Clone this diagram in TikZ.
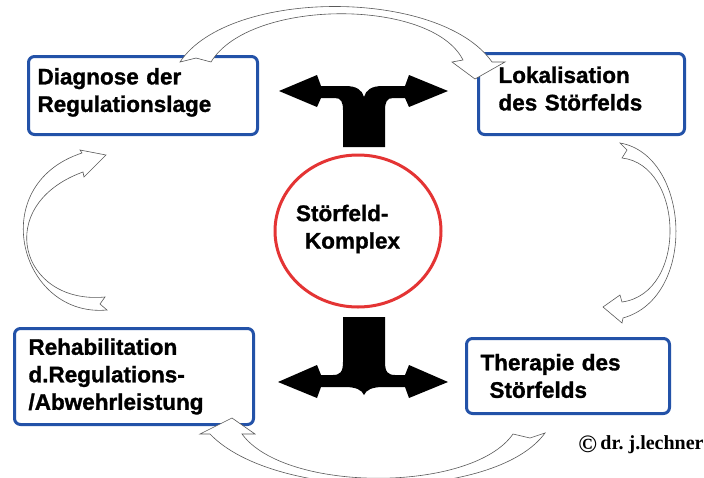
\documentclass[tikz,border=0pt]{standalone}
\usepackage{fontspec}
\setmainfont{Liberation Sans}[BoldFeatures={FakeBold=1.2}]
\newfontfamily\cpfont{Liberation Serif}
\usetikzlibrary{shapes.geometric}
\definecolor{boxblue}{RGB}{35,82,168}
\definecolor{ringred}{RGB}{228,52,52}
\begin{document}
\begin{tikzpicture}[x=1pt,y=-1pt,
  box/.style={draw=boxblue, line width=3pt, rounded corners=6pt, fill=white,
    align=left, font=\bfseries\fontsize{22.5}{27.5}\selectfont,
    anchor=north west, inner ysep=2pt},
  ring/.style={draw=ringred, line width=3pt, ellipse, fill=white},
  lbl/.style={font=\bfseries\fontsize{22.5}{27.5}\selectfont, align=left, inner sep=0pt},
  hollow/.style={fill=white, draw=black!65, line width=0.6pt, line join=miter},
  blackarrow/.style={fill=black, draw=none}]
\useasboundingbox (0,0) rectangle (704,477);

% boxes
\node[box, inner xsep=9pt, text width=211pt, minimum width=229pt, minimum height=78pt]
  (diag) at (27,55) {Diagnose der\\Regulationslage\rule[-11pt]{0pt}{0pt}};
\node[box, inner xsep=20pt, text width=166pt, minimum width=206pt, minimum height=81pt]
  (lok) at (477,52) {Lokalisation\\des Störfelds\rule[-11pt]{0pt}{0pt}};
\node[box, inner xsep=14pt, text width=211pt, minimum width=239pt, minimum height=96pt]
  (reha) at (13,327) {Rehabilitation\\d.Regulations-\\/Abwehrleistung};
\node[box, inner xsep=14pt, text width=175pt, minimum width=203pt, minimum height=75pt]
  (ther) at (465,337) {Therapie des\\\hspace*{9pt}Störfelds};

% centre
\node[ring, minimum width=166pt, minimum height=152pt, inner sep=0pt] (kern) at (358,231) {};
\node[lbl] (ktext) at (348,229) {Störfeld-\\\hspace*{9pt}Komplex};

% black forked arrows
\fill[blackarrow] (279,91) -- (317,75) -- (321,86) -- (345,86)
  .. controls (357,86) and (362,90) .. (364,97)
  .. controls (366,90) and (371,86) .. (383,86) -- (405,86) -- (409,75) -- (448,91)
  -- (409,107) -- (405,98) -- (393,98) .. controls (387,98) and (385,102) .. (385,110)
  -- (385,147) -- (343,147) -- (343,110) .. controls (343,102) and (341,98) .. (335,98)
  -- (321,98) -- (317,107) -- cycle;
\fill[blackarrow] (343,317) -- (385,317) -- (385,362) .. controls (385,372) and (388,375) .. (395,375)
  -- (405,375) -- (409,365) -- (448,382) -- (409,398) -- (405,387) -- (383,387)
  .. controls (372,387) and (366,390) .. (364,395)
  .. controls (362,390) and (356,387) .. (345,387) -- (321,387) -- (317,398) -- (278,382)
  -- (317,365) -- (321,375) -- (333,375) .. controls (340,375) and (343,372) .. (343,362) -- cycle;

% hollow curved arrows
\draw[hollow] (180,62) -- (196,58) -- (211,62) .. controls (250,-2) and (432,-2) .. (463,60)
  -- (452,62) -- (475,79) -- (505,62) -- (492,62) .. controls (440,-12) and (229,-12) .. (180,62) -- cycle;
\draw[hollow] (620,143) .. controls (690,155) and (698,297) .. (623,318) -- (622,323) -- (603,307)
  -- (620,295) -- (622,302) .. controls (688,293) and (684,165) .. (622,158) -- (627,150) -- cycle;
\draw[hollow] (210,434) .. controls (275,502) and (495,502) .. (545,433) -- (530,438) -- (513,434)
  .. controls (472,493) and (285,493) .. (242,434) -- (255,434) -- (232,418) -- (200,434) -- cycle;
\draw[hollow] (82,153) .. controls (-16,185) and (20,318) .. (107,310) -- (100,304) -- (105,297)
  .. controls (20,305) and (-8,205) .. (83,172) -- (84,177) -- (106,155) -- (80,150) -- cycle;

% copyright
\node[font=\cpfont\bfseries\fontsize{20}{24}\selectfont, inner sep=0pt] (copy) at (641,445)
  {\raisebox{-2.5pt}{\fontsize{25}{25}\selectfont ©}\,dr.\ j.lechner};
\end{tikzpicture}
\end{document}
